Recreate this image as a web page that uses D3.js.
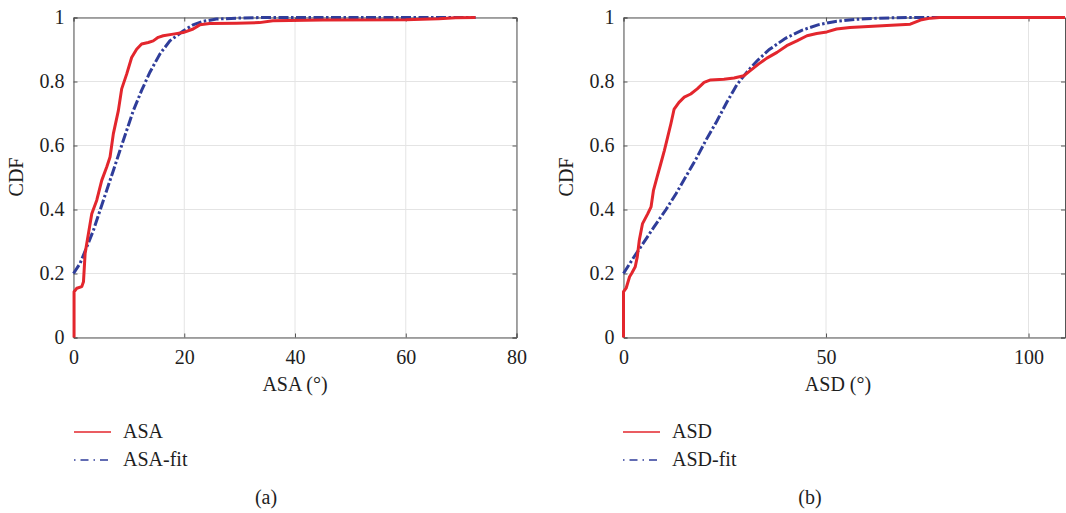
<!DOCTYPE html>
<html>
<head>
<meta charset="utf-8">
<script src="https://cdn.jsdelivr.net/npm/d3@7.9.0/dist/d3.min.js"></script>
<style>
  html, body { margin: 0; padding: 0; background: #fff; }
  svg text { font-family: "Liberation Serif", "DejaVu Serif", serif; fill: #1e1e1e; }
</style>
</head>
<body>
<svg id="chart" width="1066" height="513"></svg>
<script>
// ASA panel (a)
const asaX   = [0.1, 0.1, 0.6, 1.5, 1.8, 2.1, 2.7, 3.3, 4.2, 5.1, 6.0, 6.6, 7.2, 8.1, 8.7, 9.6, 10.5, 11.4, 12.3, 13.5, 14.4, 15.3, 16.2, 18.0, 19.8, 21.6, 22.8, 24.6, 29.4, 33.6, 36.0, 45.0, 60.0, 66.0, 69.0, 72.6];
const asaCdf = [0, 0.143, 0.154, 0.159, 0.174, 0.263, 0.325, 0.387, 0.429, 0.491, 0.533, 0.564, 0.637, 0.709, 0.777, 0.823, 0.875, 0.901, 0.917, 0.922, 0.927, 0.938, 0.943, 0.948, 0.953, 0.964, 0.977, 0.981, 0.982, 0.984, 0.99, 0.992, 0.993, 0.996, 0.999, 1.0];
const asaFitX   = [0, 1.2, 2.4, 3.6, 4.8, 6.0, 7.2, 8.4, 9.6, 10.8, 12.3, 13.8, 15.6, 17.4, 19.8, 21.6, 23.4, 25.8, 29.4, 34.0, 72.6];
const asaFitCdf = [0.2, 0.232, 0.283, 0.335, 0.398, 0.46, 0.522, 0.585, 0.647, 0.709, 0.772, 0.829, 0.886, 0.927, 0.958, 0.977, 0.988, 0.995, 0.998, 1.0, 1.0];

// ASD panel (b)
const asdX   = [0, 0, 0.65, 1.5, 2.0, 2.9, 3.4, 3.9, 4.7, 6.0, 6.8, 7.4, 8.3, 9.2, 10.1, 10.9, 11.7, 12.5, 13.7, 15.0, 16.6, 18.2, 19.9, 21.5, 24.8, 27.3, 29.7, 31.3, 33.4, 35.4, 37.9, 40.3, 42.8, 45.3, 47.7, 50.2, 52.6, 55.9, 65.0, 70.8, 73.3, 75.8, 78.0, 109];
const asdCdf = [0, 0.143, 0.154, 0.19, 0.2, 0.221, 0.252, 0.304, 0.356, 0.387, 0.408, 0.46, 0.502, 0.543, 0.585, 0.626, 0.668, 0.714, 0.735, 0.751, 0.761, 0.777, 0.797, 0.805, 0.807, 0.811, 0.818, 0.834, 0.855, 0.873, 0.891, 0.912, 0.927, 0.943, 0.95, 0.955, 0.964, 0.969, 0.975, 0.979, 0.992, 0.998, 1.0, 1.0];
const asdFitX   = [0, 2.5, 5.0, 7.5, 10.5, 13.0, 15.5, 18.0, 20.5, 23.0, 25.5, 28.0, 30.5, 33.0, 36.0, 40.0, 44.0, 48.0, 52.0, 57.0, 63.0, 70.0, 109];
const asdFitCdf = [0.2, 0.25, 0.297, 0.345, 0.4, 0.45, 0.505, 0.56, 0.62, 0.675, 0.735, 0.79, 0.83, 0.865, 0.9, 0.935, 0.96, 0.977, 0.987, 0.994, 0.998, 1.0, 1.0];

const yTicks = [0, 0.2, 0.4, 0.6, 0.8, 1];
const yTickLabels = ['0', '0.2', '0.4', '0.6', '0.8', '1'];

const RED = '#e3262d';
const BLUE = '#2f3d9a';
const FONT = '"Liberation Serif", "DejaVu Serif", serif';

const svg = d3.select('#chart');

function drawPanel(cfg) {
  const x = d3.scaleLinear().domain(cfg.xDomain).range([cfg.left, cfg.right]);
  const y = d3.scaleLinear().domain([0, 1]).range([337.5, 17.5]);
  const g = svg.append('g');

  // grid
  g.selectAll('.gx').data(cfg.xTicks).join('line')
    .attr('x1', d => x(d)).attr('x2', d => x(d))
    .attr('y1', y(0)).attr('y2', y(1))
    .attr('stroke', '#e4e4e4').attr('stroke-width', 1);
  g.selectAll('.gy').data(yTicks).join('line')
    .attr('x1', cfg.left).attr('x2', cfg.right)
    .attr('y1', d => y(d)).attr('y2', d => y(d))
    .attr('stroke', '#e4e4e4').attr('stroke-width', 1);

  // axes (ticks inward, box)
  const bottom = d3.axisBottom(x).tickValues(cfg.xTicks).tickSize(-4).tickPadding(12).tickFormat(d3.format('d'));
  const top = d3.axisTop(x).tickValues(cfg.xTicks).tickSize(-4).tickFormat('');
  const leftAx = d3.axisLeft(y).tickValues(yTicks).tickSize(-4).tickPadding(9).tickFormat((d, i) => yTickLabels[i]);
  const rightAx = d3.axisRight(y).tickValues(yTicks).tickSize(-4).tickFormat('');

  const axes = [
    [bottom, `translate(0,${y(0)})`],
    [top, `translate(0,${y(1)})`],
    [leftAx, `translate(${cfg.left},0)`],
    [rightAx, `translate(${cfg.right},0)`]
  ];
  axes.forEach(([ax, tr]) => {
    const a = g.append('g').attr('transform', tr).call(ax).attr('font-family', FONT);
    a.select('.domain').attr('stroke', '#555').attr('stroke-width', 1);
    a.selectAll('.tick line').attr('stroke', '#555');
    a.selectAll('.tick text').attr('font-size', 20).attr('fill', '#1e1e1e');
  });

  const line = d3.line().x(d => x(d[0])).y(d => y(d[1]));

  // fit line (dash-dot)
  g.append('path')
    .datum(d3.zip(cfg.fitX, cfg.fitCdf))
    .attr('d', line)
    .attr('fill', 'none').attr('stroke', BLUE).attr('stroke-width', 3)
    .attr('stroke-dasharray', '10,2.5,2.5,2.5');

  // empirical cdf
  g.append('path')
    .datum(d3.zip(cfg.empX, cfg.empCdf))
    .attr('d', line)
    .attr('fill', 'none').attr('stroke', RED).attr('stroke-width', 3)
    .attr('stroke-linejoin', 'round');

  // axis labels
  g.append('text').attr('x', cfg.xLabelX).attr('y', 391).attr('text-anchor', 'middle')
    .attr('font-size', 20).text(cfg.xLabel);
  g.append('text').attr('transform', `translate(${cfg.yLabelX},177) rotate(-90)`)
    .attr('text-anchor', 'middle').attr('font-size', 20).text('CDF');

  // legend
  const lg = g.append('g');
  lg.append('line').attr('x1', cfg.legX).attr('x2', cfg.legX + 37).attr('y1', 432).attr('y2', 432)
    .attr('stroke', RED).attr('stroke-width', 1.5);
  lg.append('line').attr('x1', cfg.legX).attr('x2', cfg.legX + 37).attr('y1', 460).attr('y2', 460)
    .attr('stroke', BLUE).attr('stroke-width', 1.5).attr('stroke-dasharray', '1.5,5,8,5');
  lg.append('text').attr('x', cfg.legX + 49).attr('y', 438).attr('font-size', 20).text(cfg.empName);
  lg.append('text').attr('x', cfg.legX + 49).attr('y', 466).attr('font-size', 20).text(cfg.fitName);

  g.append('text').attr('x', cfg.capX).attr('y', 504).attr('text-anchor', 'middle')
    .attr('font-size', 20).text(cfg.caption);
}

drawPanel({
  xDomain: [0, 80], left: 73.5, right: 516.5, xTicks: [0, 20, 40, 60, 80],
  empX: asaX, empCdf: asaCdf, fitX: asaFitX, fitCdf: asaFitCdf,
  xLabel: 'ASA (°)', xLabelX: 295, yLabelX: 23,
  legX: 74, empName: 'ASA', fitName: 'ASA-fit', capX: 266, caption: '(a)'
});

drawPanel({
  xDomain: [0, 109], left: 623.5, right: 1065, xTicks: [0, 50, 100],
  empX: asdX, empCdf: asdCdf, fitX: asdFitX, fitCdf: asdFitCdf,
  xLabel: 'ASD (°)', xLabelX: 838, yLabelX: 573,
  legX: 623, empName: 'ASD', fitName: 'ASD-fit', capX: 810, caption: '(b)'
});
</script>
</body>
</html>
